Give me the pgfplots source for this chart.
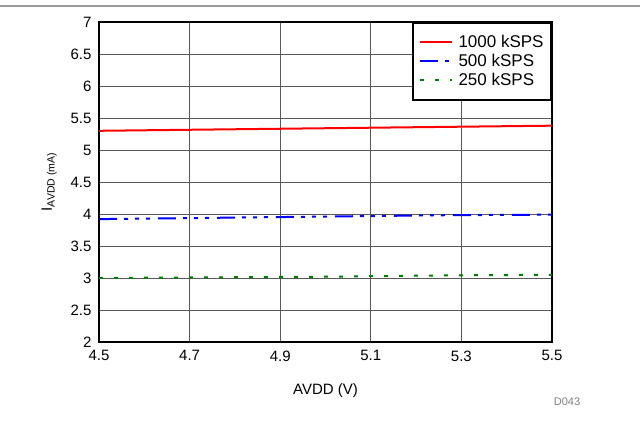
\documentclass[border=0pt]{standalone}
\usepackage{fontspec}
\setmainfont{Liberation Sans}
\usepackage{pgfplots}
\pgfplotsset{compat=1.18}
\begin{document}
\begin{tikzpicture}[x=1pt,y=1pt]
\useasboundingbox (0,0) rectangle (640,431);
\draw[gray!80, line width=1.5pt] (0,425) -- (640,425);
\begin{axis}[at={(99pt,89pt)}, anchor=south west, scale only axis,
  width=453pt, height=320pt,
  xmin=4.5, xmax=5.5, ymin=2, ymax=7,
  xtick={4.5,4.7,4.9,5.1,5.3,5.5},
  ytick={2,2.5,3,3.5,4,4.5,5,5.5,6,6.5,7},
  xticklabel style={/pgf/number format/.cd, fixed, fixed zerofill, precision=1},
  xticklabel shift=5pt,
  yticklabel shift=4pt,
  grid=major,
  major grid style={black!65, line width=0.9pt},
  axis line style={line width=1.8pt},
  tick style={draw=none},
  /pgf/number format/assume math mode=true,
  ticklabel style={font=\fontsize{15}{18}\selectfont},
  xlabel={AVDD (V)},
  ylabel={I\textsubscript{AVDD (mA)}},
  label style={font=\fontsize{15}{18}\selectfont},
  xlabel style={at={(axis description cs:0.5,-0.152)}, anchor=center},
  ylabel style={at={(axis description cs:-0.11,0.5)}, anchor=center},
  legend style={at={(1,1)}, anchor=north east, draw=black, line width=1.8pt,
    fill=white, font=\fontsize{17}{19}\selectfont, inner xsep=5.5pt, inner ysep=10.5pt,
    cells={anchor=west}, row sep=1.2pt},
  legend image code/.code={\draw[#1] (0pt,0pt) -- (32pt,0pt);},
]
\addplot[red, line width=2pt] coordinates {(4.5,5.30) (4.75,5.32) (5.0,5.34) (5.25,5.36) (5.5,5.38)};
\addlegendentry{\hspace{4pt}1000 kSPS}
\addplot[blue, line width=2pt, dash pattern=on 18pt off 7pt on 4pt off 7pt on 4pt off 7pt on 4pt off 8pt] coordinates {(4.5,3.92) (4.75,3.94) (5.0,3.96) (5.25,3.98) (5.5,3.99)};
\addlegendentry{\hspace{4pt}500 kSPS}
\addplot[green!50!black, line width=2pt, dash pattern=on 4pt off 11pt] coordinates {(4.5,3.00) (4.75,3.01) (5.0,3.02) (5.25,3.04) (5.5,3.05)};
\addlegendentry{\hspace{4pt}250 kSPS}
\end{axis}
\node[gray, font=\fontsize{11}{13}\selectfont] at (567,29) {D043};
\end{tikzpicture}
\end{document}
